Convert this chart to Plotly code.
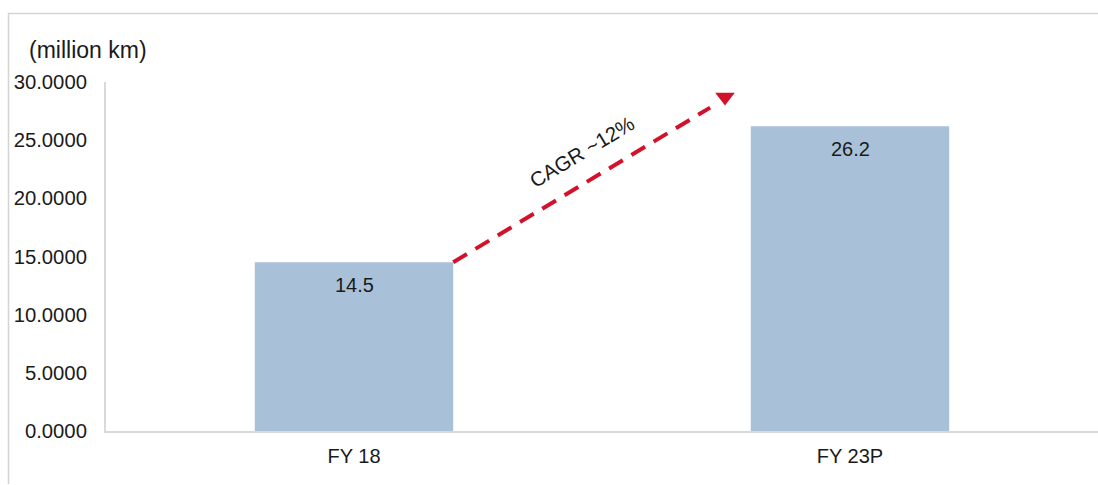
import plotly.graph_objects as go

# Road network length, million km
categories = ["FY 18", "FY 23P"]
values = [14.5, 26.2]
y_ticks = [0, 5, 10, 15, 20, 25, 30]
y_tick_labels = ["0.0000", "5.0000", "10.0000", "15.0000", "20.0000", "25.0000", "30.0000"]
cagr_label = "CAGR ~12%"
unit_label = "(million km)"

BAR_COLOR = "#a9c1d8"
RED = "#d3112b"
TEXT = "#1a1a1a"
FONT = "Liberation Sans, Arial, sans-serif"

fig = go.Figure()

fig.add_trace(go.Bar(
    x=categories,
    y=values,
    width=0.4,
    marker=dict(color=BAR_COLOR, line=dict(width=0)),
    hoverinfo="skip",
    showlegend=False,
))

# Value labels just inside the top of each bar
for cat, val in zip(categories, values):
    fig.add_annotation(
        x=cat, y=val, text=f"{val:.1f}", showarrow=False,
        yanchor="middle", yshift=-23,
        font=dict(family=FONT, size=20, color=TEXT),
    )

# Dashed growth arrow from the top of the first bar towards the second
x_start, y_start = 0.2, values[0]
x_end, y_end = 0.718, 27.8
fig.add_trace(go.Scatter(
    x=[x_start, x_end], y=[y_start, y_end],
    mode="lines",
    line=dict(color=RED, width=4, dash="16px,10px"),
    hoverinfo="skip", showlegend=False,
    xaxis="x2",
))
fig.add_trace(go.Scatter(
    x=[0.748], y=[28.7],
    mode="markers",
    marker=dict(symbol="triangle-down", size=17, color=RED, line=dict(width=0)),
    hoverinfo="skip", showlegend=False,
    xaxis="x2",
))

fig.add_annotation(
    x=0.46, y=24.0, xref="x2", yref="y",
    text=cagr_label, showarrow=False, textangle=-31,
    font=dict(family=FONT, size=20.5, color=TEXT),
)

# Unit label above the value axis
fig.add_annotation(
    x=(27 - 106) / 992, y=(431 - 50) / 349, xref="paper", yref="paper",
    xanchor="left", yanchor="middle", text=unit_label, showarrow=False,
    font=dict(family=FONT, size=23, color=TEXT),
)

# Light frame along the top and left of the chart area
left = (8.5 - 106) / 992
top = (431 - 13.5) / 349
bottom = (431 - 484) / 349
fig.add_shape(
    type="path", xref="paper", yref="paper",
    path=f"M {left} {bottom} L {left} {top} L 1 {top}",
    line=dict(color="#d4d4d4", width=1.5),
)

fig.update_layout(
    width=1098, height=485,
    margin=dict(l=106, r=0, t=82, b=54),
    paper_bgcolor="white", plot_bgcolor="white",
    font=dict(family=FONT, size=20, color=TEXT),
    xaxis=dict(
        type="category", range=[-0.5, 1.5],
        showline=True, linecolor="#d9d9d9", linewidth=2,
        showgrid=False, ticks="", zeroline=False,
        ticklabelstandoff=6,
        tickfont=dict(family=FONT, size=20, color=TEXT),
    ),
    xaxis2=dict(
        range=[-0.5, 1.5], overlaying="x", visible=False,
    ),
    yaxis=dict(
        range=[0, 30], tickvals=y_ticks, ticktext=y_tick_labels,
        showline=True, linecolor="#d9d9d9", linewidth=2,
        showgrid=False, ticks="", zeroline=False,
        ticklabelstandoff=13,
        tickfont=dict(family=FONT, size=20.3, color=TEXT),
    ),
)

fig.write_html("out.html")
